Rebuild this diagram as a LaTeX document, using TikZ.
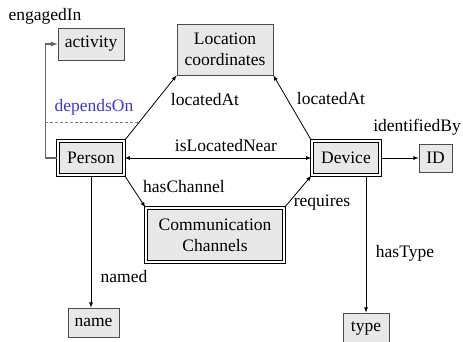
\documentclass[tikz,border=0pt]{standalone}
\usepackage{fontspec}
\setmainfont{Liberation Serif}
\usetikzlibrary{arrows,calc}
\definecolor{boxgray}{gray}{0.91}
\definecolor{depblue}{rgb}{0.22,0.22,0.85}

\begin{document}
\begin{tikzpicture}[x=1pt,y=-1pt]
            \tikzset{box/.style = {shape=rectangle, draw=black!70, line width=0.8pt, fill=boxgray, inner sep=0pt, align=center, font=\fontsize{17.5}{21}\selectfont}}
            \tikzset{entity/.style = {box, draw=black, double, double distance=1.2pt, line width=1.4pt}}
            \tikzset{rel/.style = {font=\fontsize{17.5}{21}\selectfont}}
            \tikzset{edge/.style = {draw=black, line width=0.8pt, -latex}}
            \useasboundingbox (0,0) rectangle (463,342);
            % vertices
            \node[box, minimum width=66pt, minimum height=32pt] (activity) at (91,44) {activity};
            \node[box, minimum width=96pt, minimum height=51pt] (loc) at (225,49.5) {Location\\coordinates};
            \node[entity, minimum width=66pt, minimum height=34pt] (person) at (91,158) {Person};
            \node[entity, minimum width=68pt, minimum height=34pt] (device) at (346,158) {Device};
            \node[box, minimum width=33pt, minimum height=28pt] (id) at (435.5,158) {ID};
            \node[entity, minimum width=138pt, minimum height=54pt] (cc) at (215,235) {Communication\\Channels};
            \node[box, minimum width=51pt, minimum height=29pt] (name) at (93.5,322.5) {name};
            \node[box, minimum width=46pt, minimum height=31pt] (type) at (366,328.5) {type};
            % edges
            \coordinate (bend) at ([xshift=-12pt]person.west);
            \draw[-latex, black!60, line width=1.3pt] (person.west) -- (bend) |- (activity.west);
            \draw[edge] (person.north east) -- (loc.south west);
            \draw[edge] (device.north west) -- (loc.south east);
            \draw[edge, latex-latex] (person.east) -- (device.west);
            \draw[edge] (device.east) -- (id.west);
            \draw[edge] (person.south east) -- (cc.north west);
            \draw[edge] (cc.north east) -- (device.south west);
            \draw[edge] (person.south) -- (person.south |- name.north);
            \draw[edge] (type.north |- device.south) -- (type.north);
            \coordinate (dep) at ($(person.north east)!0.27!(loc.south west)$);
            \draw[densely dashed, black!50, line width=0.6pt] (bend |- dep) -- (dep);
            % labels
            \node[rel] (engagedIn) at (45,16) {engagedIn};
            \node[rel, text=depblue] (dependsOn) at (94,107) {dependsOn};
            \node[rel] (locatedAtA) at (205,100) {locatedAt};
            \node[rel] (locatedAtB) at (331,99) {locatedAt};
            \node[rel] (isLocatedNear) at (226,146) {isLocatedNear};
            \node[rel] (identifiedBy) at (417,127) {identifiedBy};
            \node[rel] (hasChannel) at (184,187) {hasChannel};
            \node[rel] (requires) at (322,203) {requires};
            \node[rel] (named) at (124,277) {named};
            \node[rel] (hasType) at (405,253) {hasType};
        \end{tikzpicture}
\end{document}
